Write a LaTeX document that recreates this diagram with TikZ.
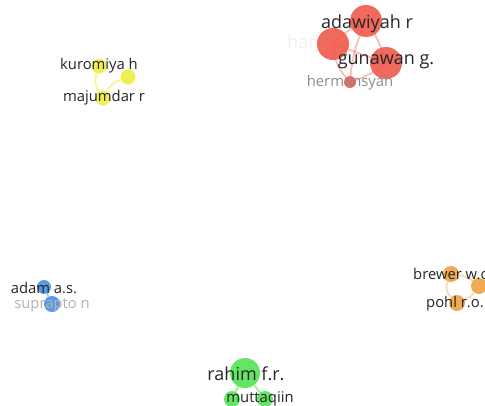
\documentclass[tikz,border=0pt]{standalone}
\usepackage{fontspec}
\setmainfont{Open Sans}
\begin{document}
\begin{tikzpicture}[x=1pt,y=-1pt,
  lbl/.style={text=black!85, inner sep=0pt, font=\fontsize{14.8}{14.8}\selectfont},
  big/.style={lbl, font=\fontsize{18}{18}\selectfont},
  dot/.style={circle, inner sep=0pt, minimum size=#1, fill opacity=0.9},
  edge/.style={line width=1.8pt, draw opacity=0.55}
]
\definecolor{cred}{HTML}{F05A4C}
\definecolor{cyel}{HTML}{EEEE40}
\definecolor{cblu}{HTML}{4A90E2}
\definecolor{cora}{HTML}{F0A042}
\definecolor{cgre}{HTML}{55E355}
\useasboundingbox (0,0) rectangle (485,405);
\fill[white] (0,0) rectangle (485,405);

% faint hidden label
\node[big, text=black!6, anchor=west] (lharj) at (287,44) {harjono};

% red cluster
\coordinate (pada) at (366,21);
\coordinate (pleft) at (333,44);
\coordinate (pgun) at (386,63);
\coordinate (pher) at (350,82);
\draw[edge, cred!70] (pleft) to[bend left=10] (pada);
\draw[edge, cred!70] (pleft) -- (pgun);
\draw[edge, cred!70] (pleft) to[bend right=20] (pher);
\draw[edge, cred!70] (pada) to[bend left=10] (pgun);
\draw[edge, cred!70] (pada) to[bend right=10] (pher);
\draw[edge, cred!70] (pgun) to[bend left=10] (pher);
\node[dot=32pt, fill=cred] (nada) at (pada) {};
\node[dot=32pt, fill=cred] (nleft) at (pleft) {};
\node[dot=32pt, fill=cred] (ngun) at (pgun) {};
\node[dot=12pt, fill=cred] (nher) at (pher) {};
\node[big] (lada) at (367,24) {adawiyah r};
\node[big] (lgun) at (386,62) {gunawan g.};
\node[lbl, text=black!45] (lher) at (350,83) {hermansyah};

% yellow cluster
\node[dot=15pt, fill=cyel] (nkur) at (99,66) {};
\node[dot=15pt, fill=cyel] (nyel) at (128,77) {};
\node[dot=15pt, fill=cyel] (nmaj) at (103,98) {};
\draw[edge, cyel] (nkur) to[bend right=25] (nmaj);
\draw[edge, cyel] (nmaj) to[bend left=20] (nyel);
\node[lbl] (lkur) at (99,66) {kuromiya h};
\node[lbl] (lmaj) at (104,98) {majumdar r};

% blue cluster
\node[dot=14pt, fill=cblu] (nadam) at (44,287) {};
\node[dot=16pt, fill=cblu] (nsup) at (52,304) {};
\draw[edge, cblu] (nadam) -- (nsup);
\node[lbl] (ladam) at (44,288) {adam a.s.};
\node[lbl, text=black!30] (lsup) at (52,305) {suprapto n};

% orange cluster
\node[dot=16pt, fill=cora] (nbre) at (451,274) {};
\node[dot=16pt, fill=cora] (nora) at (479,286) {};
\node[dot=16pt, fill=cora] (npoh) at (457,303) {};
\draw[edge, cora!70] (nbre) to[bend left=15] (nora);
\draw[edge, cora!70] (nbre) to[bend right=35] (npoh);
\draw[edge, cora!70] (npoh) to[bend right=15] (nora);
\node[lbl, anchor=west] (lbre) at (413,274) {brewer w.c.};
\node[lbl] (lpoh) at (455,304) {pohl r.o.};

% green cluster
\node[dot=30pt, fill=cgre] (nrah) at (245,373) {};
\node[dot=16pt, fill=cgre] (ng1) at (232,399) {};
\node[dot=16pt, fill=cgre] (ng2) at (265,399) {};
\draw[edge, cgre] (nrah) -- (ng1);
\draw[edge, cgre] (nrah) -- (ng2);
\node[big] (lrah) at (246,374) {rahim f.r.};
\node[lbl] (lmut) at (260,399) {muttaqiin};
\end{tikzpicture}
\end{document}
